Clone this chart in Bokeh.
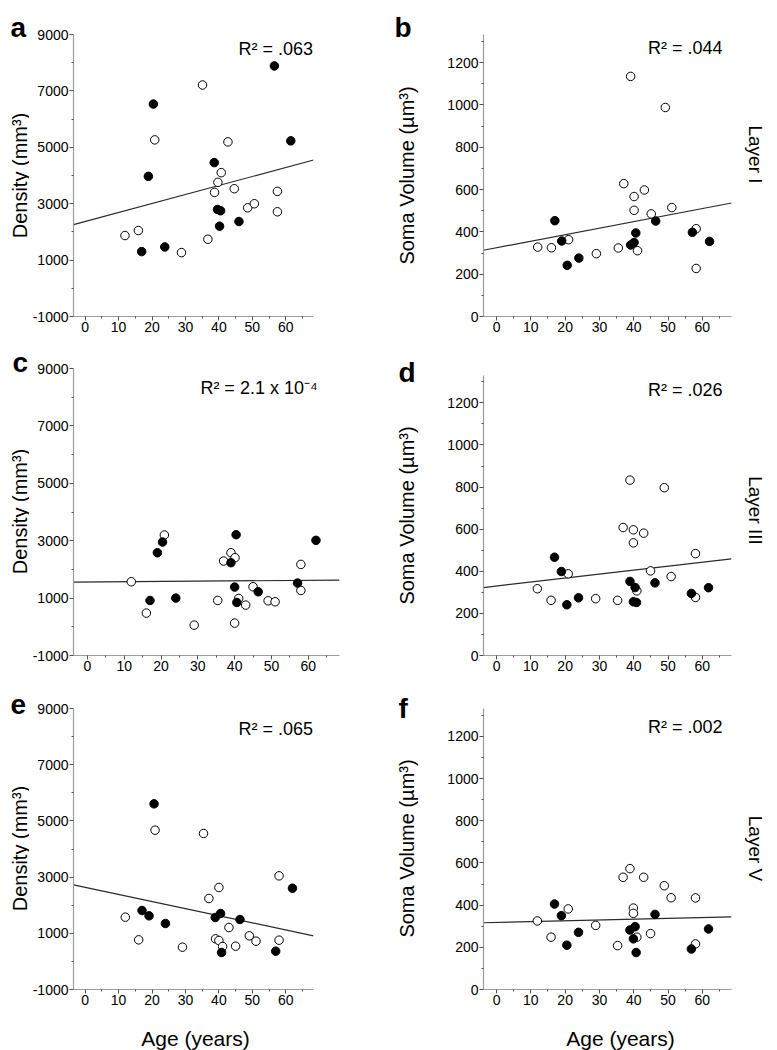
import math
from bokeh.plotting import figure
from bokeh.layouts import column, row
from bokeh.models import FixedTicker, Range1d
from bokeh.core.properties import value
from bokeh.embed import file_html
from bokeh.resources import INLINE

FONT = "Liberation Sans"

# ---------------- ticks ----------------
x_major = [0, 10, 20, 30, 40, 50, 60]
x_minor = [5, 15, 25, 35, 45, 55, 65]
dens_major = [-1000, 1000, 3000, 5000, 7000, 9000]
dens_minor = [0, 2000, 4000, 6000, 8000]
vol_major = [0, 200, 400, 600, 800, 1000, 1200]
vol_minor = [100, 300, 500, 700, 900, 1100, 1300]

# ---------------- data ----------------
# a: Layer I density
a_fill_age = [16.9, 18.9, 20.4, 23.8, 38.6, 39.6, 40.2, 40.5, 46.0, 56.6, 61.5]
a_fill_val = [1301, 3970, 6533, 1467, 4457, 2796, 2203, 2749, 2369, 7885, 5228]
a_open_age = [11.9, 15.9, 20.8, 28.8, 35.1, 36.7, 38.7, 39.7, 40.7, 42.7, 44.6, 48.6, 50.6, 57.5, 57.5]
a_open_val = [1871, 2049, 5263, 1266, 7209, 1740, 3401, 3757, 4101, 5192, 3531, 2855, 2998, 3437, 2713]
a_fit = (2370, 31.9)  # intercept, slope
a_r2 = "R\u00b2 = .063"

# b: Layer I soma volume
b_fill_age = [17.0, 19.0, 20.6, 24.0, 39.1, 40.1, 40.6, 46.4, 57.1, 62.1]
b_fill_val = [453, 357, 242, 276, 338, 350, 395, 451, 398, 355]
b_open_age = [12.0, 16.0, 21.0, 29.1, 35.5, 37.1, 39.1, 40.1, 40.1, 41.1, 43.1, 45.1, 49.2, 51.1, 58.2, 58.2]
b_open_val = [328, 325, 363, 297, 324, 628, 1135, 567, 502, 311, 598, 485, 988, 515, 415, 227]
b_fit = (325, 3.09)
b_r2 = "R\u00b2 = .044"

# c: Layer III density
c_fill_age = [17.0, 19.0, 20.4, 24.0, 39.0, 40.0, 40.4, 40.6, 46.4, 57.1, 62.1]
c_fill_val = [918, 2581, 2953, 1000, 2233, 1384, 3209, 849, 1221, 1523, 3012]
c_open_age = [11.9, 16.0, 20.9, 29.0, 35.4, 37.0, 39.0, 40.0, 40.1, 41.1, 43.0, 45.0, 49.1, 51.0, 58.0, 58.0]
c_open_val = [1570, 477, 3198, 58, 918, 2291, 2581, 128, 2407, 988, 756, 1395, 907, 872, 2174, 1267]
c_fit = (1561, 0.97)
c_r2 = "R\u00b2 = 2.1 x 10\u207b\u2074"

# d: Layer III soma volume
d_fill_age = [16.9, 18.9, 20.5, 23.9, 38.9, 39.9, 40.4, 40.8, 46.2, 56.8, 61.8]
d_fill_val = [467, 399, 241, 274, 352, 255, 323, 252, 345, 295, 322]
d_open_age = [11.9, 15.9, 20.9, 28.9, 35.3, 36.9, 38.9, 39.9, 39.9, 40.9, 42.9, 44.9, 48.9, 50.9, 58.0, 58.0]
d_open_val = [317, 262, 388, 270, 262, 608, 833, 597, 535, 307, 581, 402, 797, 375, 484, 276]
d_fit = (330, 1.886)
d_r2 = "R\u00b2 = .026"

# e: Layer V density
e_fill_age = [17.0, 19.1, 20.6, 24.0, 38.9, 40.5, 40.8, 46.3, 57.0, 62.0]
e_fill_val = [1811, 1622, 5607, 1349, 1562, 1705, 317, 1491, 364, 2606]
e_open_age = [12.0, 16.0, 20.9, 29.1, 35.4, 37.0, 39.0, 40.0, 40.0, 41.1, 43.0, 45.0, 49.1, 51.1, 58.0, 58.0]
e_open_val = [1574, 767, 4670, 506, 4552, 2238, 803, 2630, 744, 530, 1206, 542, 910, 720, 3045, 755]
e_fit = (2636, -25.3)
e_r2 = "R\u00b2 = .065"

# f: Layer V soma volume
f_fill_age = [16.9, 18.9, 20.5, 23.9, 38.9, 39.9, 40.4, 40.7, 46.2, 56.8, 61.8]
f_fill_val = [405, 350, 210, 271, 282, 240, 298, 175, 356, 192, 287]
f_open_age = [11.9, 15.9, 20.9, 28.9, 35.3, 36.9, 38.9, 39.9, 39.9, 40.9, 42.9, 44.9, 48.9, 50.9, 58.0, 58.0]
f_open_val = [325, 248, 382, 304, 208, 532, 573, 386, 361, 248, 532, 265, 492, 435, 434, 216]
f_fit = (318, 0.388)
f_r2 = "R\u00b2 = .002"

panel_letters = ["a", "b", "c", "d", "e", "f"]
dens_label = "Density (mm\u00b3)"
vol_label = "Soma Volume (\u00b5m\u00b3)"
age_label = "Age (years)"
layer_labels = ["Layer I", "Layer III", "Layer V"]


def put_text(fig, x, y, text, size, bold=False, align="left", baseline="alphabetic", angle=0.0):
    fig.text(x=[x], y=[y], text=[text], text_font=value(FONT), text_font_size=value(size),
             text_font_style=value("bold" if bold else "normal"), text_color="black",
             text_align=value(align), text_baseline=value(baseline), angle=angle)


def make_panel(ox, oy, w, h, fl, fr, ft, at, fb, xr, yr, ymaj, ymin,
               fx, fy, opx, opy, fit, r2, r2_pos):
    # frame spans ft..fb (page px); the y axis itself spans at..fb
    upp = (yr[1] - yr[0]) / (fb - at)
    y_top = yr[1] + (at - ft) * upp
    p = figure(width=w, height=h, output_backend="svg", toolbar_location=None,
               title=None, x_range=Range1d(*xr), y_range=Range1d(yr[0], y_top),
               min_border_left=fl - ox, min_border_right=ox + w - fr,
               min_border_top=ft - oy, min_border_bottom=oy + h - fb)
    p.outline_line_color = None
    p.xgrid.visible = False
    p.ygrid.visible = False

    p.xaxis.ticker = FixedTicker(ticks=x_major, minor_ticks=x_minor)
    p.yaxis.ticker = FixedTicker(ticks=ymaj, minor_ticks=ymin)
    p.yaxis.bounds = (yr[0], yr[1])
    p.yaxis.major_label_overrides = {v: str(v) for v in ymaj}
    for ax in (p.xaxis[0], p.yaxis[0]):
        ax.axis_line_color = "#9c9c9c"
        ax.axis_line_width = 1.2
        ax.major_tick_line_color = "#505050"
        ax.minor_tick_line_color = "#505050"
        ax.major_tick_out = 4
        ax.major_tick_in = 0
        ax.minor_tick_out = 2
        ax.minor_tick_in = 0
        ax.major_label_standoff = 1
        ax.major_label_text_font = FONT
        ax.major_label_text_font_size = "14px"
        ax.major_label_text_color = "black"

    def px2x(px):
        return xr[0] + (px - fl) / (fr - fl) * (xr[1] - xr[0])

    def py2y(py):
        return yr[1] - (py - at) * upp

    lx = [xr[0], xr[1]]
    ly = [fit[0] + fit[1] * v for v in lx]
    p.line(lx, ly, line_color="#2a2a2a", line_width=1.2)

    p.scatter(opx, opy, marker="circle", size=8.5, fill_color="white",
              line_color="black", line_width=1)
    p.scatter(fx, fy, marker="circle", size=8.5, fill_color="black",
              line_color="black", line_width=1)

    put_text(p, px2x(r2_pos[0]), py2y(r2_pos[1]), r2, "18px", align="right")
    return p


def strip(x0, w, oy, h, ft, fb):
    # text-only strip with the same frame rows as its neighbours;
    # data x = page px, data y = minus page px
    s = figure(width=w, height=h, output_backend="svg", toolbar_location=None,
               title=None, x_range=Range1d(x0, x0 + w), y_range=Range1d(-fb, -ft),
               x_axis_type=None, y_axis_type=None,
               min_border_left=0, min_border_right=0,
               min_border_top=ft - oy, min_border_bottom=oy + h - fb)
    s.outline_line_color = None
    return s


def add_text(s, x, y, text, size, **kw):
    put_text(s, x, -y, text, size, **kw)


UP = math.pi / 2
DOWN = -math.pi / 2

# column edges (page px): 0 | 29 | 390 | 440 | 741 | 777
# row edges (page px):    0 | 346 | 682 | 1014 | 1050

# ---- row 1 ----
R1 = dict(oy=0, h=346, ft=2, fb=316)
pa = make_panel(29, R1["oy"], 361, R1["h"], 71, 313, R1["ft"], 34, R1["fb"], (-3.5, 68.3), (-1000, 9000),
                dens_major, dens_minor, a_fill_age, a_fill_val, a_open_age, a_open_val,
                a_fit, a_r2, (312.5, 48))
pb = make_panel(440, R1["oy"], 301, R1["h"], 483, 731, R1["ft"], 34, R1["fb"], (-3.8, 68.5), (0, 1333),
                vol_major, vol_minor, b_fill_age, b_fill_val, b_open_age, b_open_val,
                b_fit, b_r2, (722, 47))
l1 = strip(0, 29, **R1)
add_text(l1, 10, 27, panel_letters[0], "28px", bold=True)
add_text(l1, 19, 175, dens_label, "20px", align="center", baseline="middle", angle=UP)
m1 = strip(390, 50, **R1)
add_text(m1, 394, 27, panel_letters[1], "28px", bold=True)
add_text(m1, 406, 175, vol_label, "20px", align="center", baseline="middle", angle=UP)
r1 = strip(741, 36, **R1)
add_text(r1, 755, 154, layer_labels[0], "19px", align="center", baseline="middle", angle=DOWN)

# ---- row 2 ----
R2 = dict(oy=346, h=336, ft=347, fb=655)
pc = make_panel(29, R2["oy"], 361, R2["h"], 71, 339, R2["ft"], 368, R2["fb"], (-3.8, 68.5), (-1000, 9000),
                dens_major, dens_minor, c_fill_age, c_fill_val, c_open_age, c_open_val,
                c_fit, c_r2, (317, 387))
pd_ = make_panel(440, R2["oy"], 301, R2["h"], 483, 731, R2["ft"], 375, R2["fb"], (-3.8, 68.5), (0, 1330),
                 vol_major, vol_minor, d_fill_age, d_fill_val, d_open_age, d_open_val,
                 d_fit, d_r2, (722, 389))
l2 = strip(0, 29, **R2)
add_text(l2, 12, 362, panel_letters[2], "28px", bold=True)
add_text(l2, 19, 511, dens_label, "20px", align="center", baseline="middle", angle=UP)
m2 = strip(390, 50, **R2)
add_text(m2, 398, 372, panel_letters[3], "28px", bold=True)
add_text(m2, 406, 515, vol_label, "20px", align="center", baseline="middle", angle=UP)
r2 = strip(741, 36, **R2)
add_text(r2, 755, 510, layer_labels[1], "19px", align="center", baseline="middle", angle=DOWN)

# ---- row 3 ----
R3 = dict(oy=682, h=332, ft=683, fb=989)
pe = make_panel(29, R3["oy"], 361, R3["h"], 71, 313, R3["ft"], 708, R3["fb"], (-3.5, 68.3), (-1000, 9000),
                dens_major, dens_minor, e_fill_age, e_fill_val, e_open_age, e_open_val,
                e_fit, e_r2, (312.5, 728))
pf = make_panel(440, R3["oy"], 301, R3["h"], 483, 731, R3["ft"], 708, R3["fb"], (-3.8, 68.5), (0, 1332),
                vol_major, vol_minor, f_fill_age, f_fill_val, f_open_age, f_open_val,
                f_fit, f_r2, (722, 726))
l3 = strip(0, 29, **R3)
add_text(l3, 10, 704, panel_letters[4], "28px", bold=True)
add_text(l3, 19, 848, dens_label, "20px", align="center", baseline="middle", angle=UP)
m3 = strip(390, 50, **R3)
add_text(m3, 398, 708, panel_letters[5], "28px", bold=True)
add_text(m3, 406, 848, vol_label, "20px", align="center", baseline="middle", angle=UP)
r3 = strip(741, 36, **R3)
add_text(r3, 755, 848, layer_labels[2], "19px", align="center", baseline="middle", angle=DOWN)

# ---- bottom x labels ----
bot = strip(0, 777, 1014, 36, 1014, 1050)
add_text(bot, 195, 1038, age_label, "21px", align="center")
add_text(bot, 620, 1038, age_label, "21px", align="center")

layout = column(row(l1, pa, m1, pb, r1),
                row(l2, pc, m2, pd_, r2),
                row(l3, pe, m3, pf, r3),
                bot)
open("out.html", "w").write(file_html(layout, INLINE))
